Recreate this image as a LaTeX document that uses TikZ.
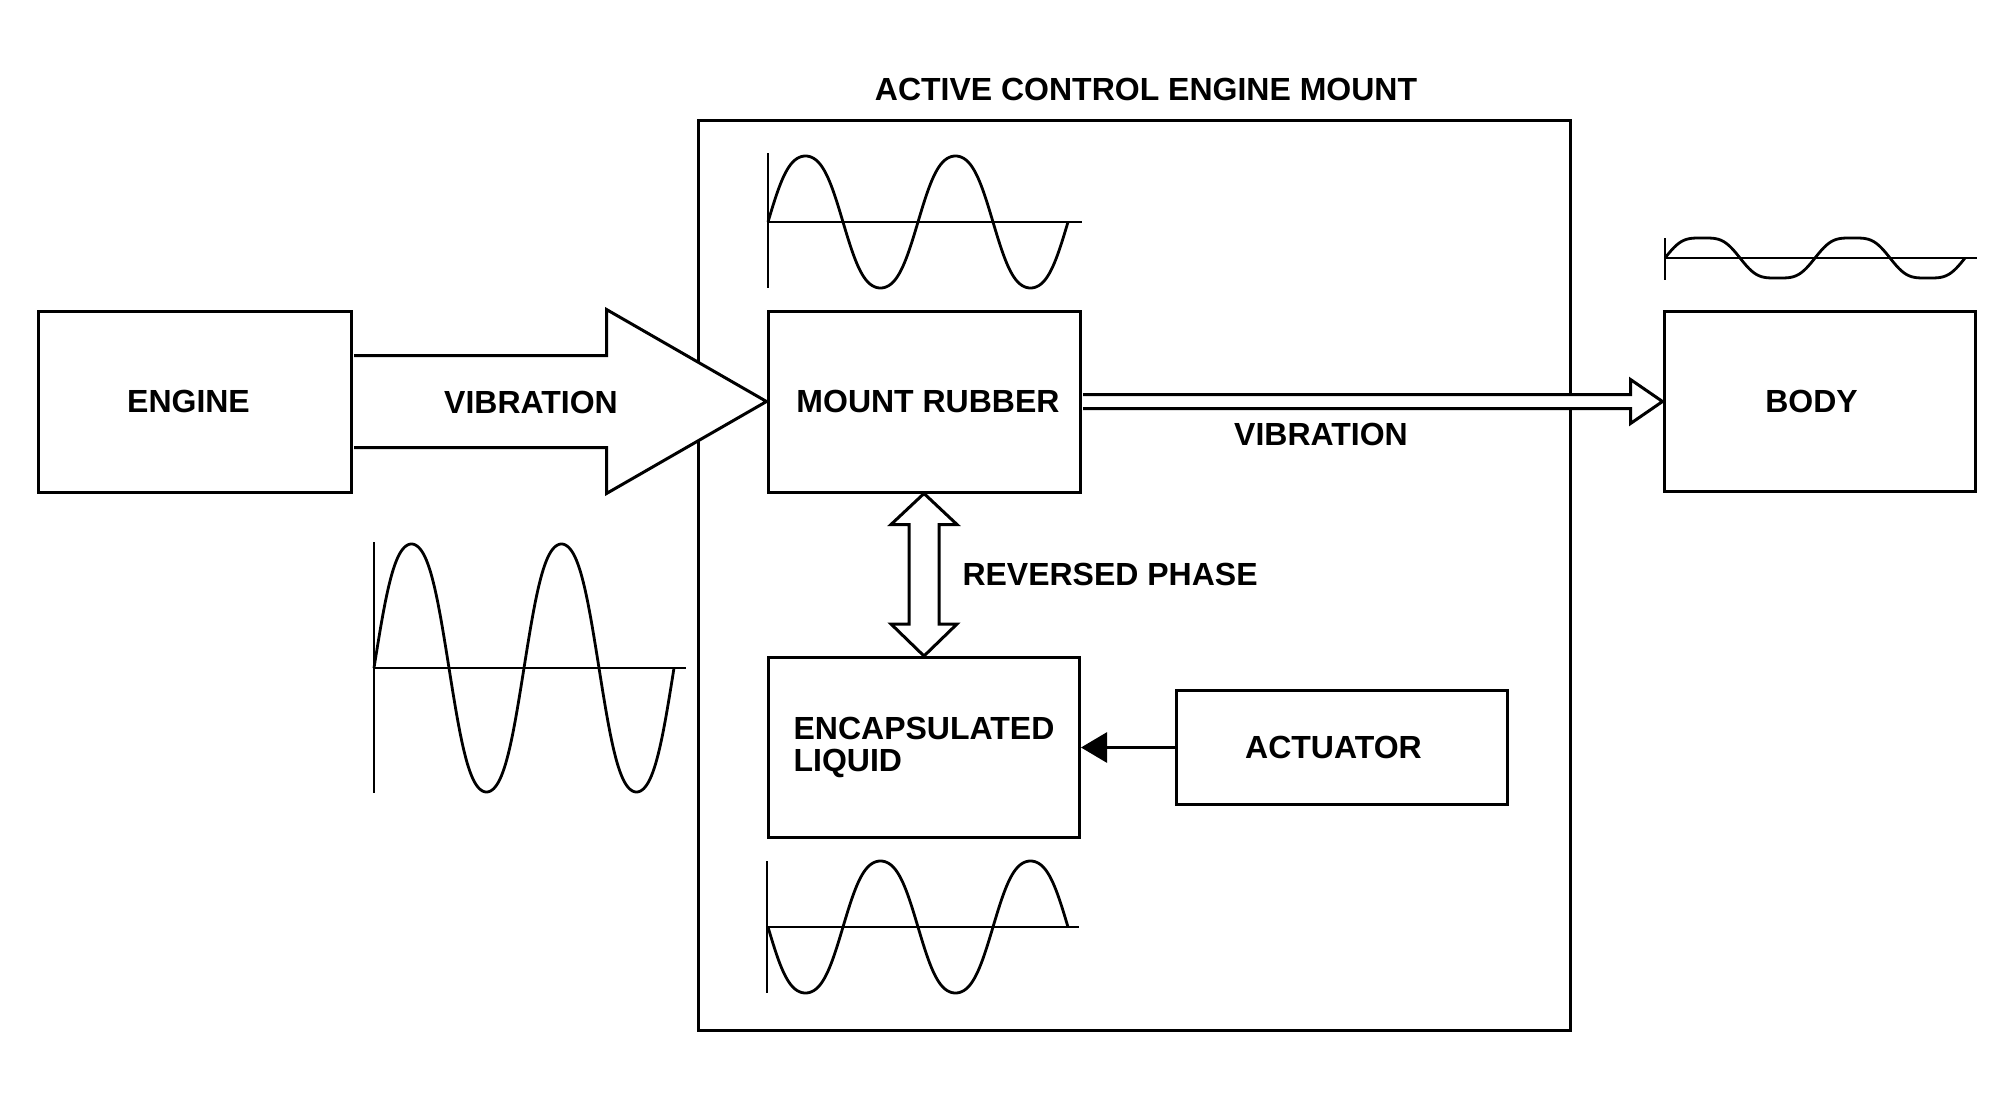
\documentclass[tikz,border=0pt]{standalone}
\usepackage{fontspec}
\setmainfont{Liberation Sans}
\usetikzlibrary{calc,arrows.meta}
\begin{document}
\begin{tikzpicture}[x=0.5pt,y=-0.5pt,line width=1.5pt,
  box/.style={draw,inner sep=0pt,font=\fontsize{16}{16}\selectfont\bfseries},
  lbl/.style={inner sep=0pt,font=\fontsize{16}{16}\selectfont\bfseries},
  hollow/.style={draw,fill=white,line join=miter},
  wave/.style={line width=1.4pt},
  axisline/.style={line width=1.4pt},
  declare function={lobe(\t,\k)=(sin(\t)+\k*sin(3*\t))/(1-\k);}]
\useasboundingbox (0,0) rectangle (2015,1108);
% boxes
\node[box,minimum width=436pt,minimum height=455pt] (acem) at (1134,575) {};
\node[box,minimum width=156.5pt,minimum height=90.5pt] (engine) at (194.5,401.5) {ENGINE\kern6pt};
\node[box,minimum width=156pt,minimum height=90.5pt] (mr) at (924,401.5) {\kern4pt MOUNT RUBBER};
\node[box,minimum width=155.5pt,minimum height=90pt] (body) at (1819.5,401.5) {BODY\kern8pt};
\node[box,minimum width=155.5pt,minimum height=90pt,align=left] (encap) at (924,747.5) {ENCAPSULATED\\LIQUID};
\node[box,minimum width=165.5pt,minimum height=57pt] (act) at (1341.5,747.5) {ACTUATOR\kern8pt};
% big input arrow
\draw[hollow] ($(engine.east)+(1.5,-46)$) -- ($(engine.east)+(254,-46)$) -- ($(engine.east)+(254,-92)$)
  -- (mr.west) -- ($(engine.east)+(254,92)$) -- ($(engine.east)+(254,46)$) -- ($(engine.east)+(1.5,46)$);
% output arrow
\draw[hollow] ($(mr.east)+(1.5,-7)$) -- ($(body.west)+(-32,-7)$) -- ($(body.west)+(-32,-22)$)
  -- (body.west) -- ($(body.west)+(-32,22)$) -- ($(body.west)+(-32,7)$) -- ($(mr.east)+(1.5,7)$);
% reversed phase double arrow
\draw[hollow] (mr.south) -- ($(mr.south)+(33,31)$) -- ($(mr.south)+(15,31)$) -- ($(encap.north)+(15,-32)$)
  -- ($(encap.north)+(33,-32)$) -- (encap.north) -- ($(encap.north)+(-33,-32)$) -- ($(encap.north)+(-15,-32)$)
  -- ($(mr.south)+(-15,31)$) -- ($(mr.south)+(-33,31)$) -- cycle;
% actuator arrow
\draw[-{Triangle[length=13pt,width=15pt]}] (act.west) -- (encap.east);
% labels
\node[lbl] (title) at (1146,89) {ACTIVE CONTROL ENGINE MOUNT};
\node[lbl] (vib1) at (531,402) {VIBRATION};
\node[lbl] (vib2) at (1321,434) {VIBRATION};
\node[lbl,anchor=west] (rp) at (961,574) {REVERSED PHASE};
% waves: top (inside box)
\draw[axisline] (768,153) -- (768,288);
\draw[axisline] (768,222) -- (1082,222);
\draw[wave] plot[domain=0:300,samples=241,smooth] ({768+\x},{222-66*lobe(2.4*\x,0.05)});
% left wave
\draw[axisline] (374,542) -- (374,793);
\draw[axisline] (374,668) -- (686,668);
\draw[wave] plot[domain=0:300,samples=241,smooth] ({374+\x},{668-124*lobe(2.4*\x,0.05)});
% bottom wave
\draw[axisline] (767,861) -- (767,993);
\draw[axisline] (767,927) -- (1079,927);
\draw[wave] plot[domain=0:300,samples=241,smooth] ({768+\x},{927+66*lobe(2.4*\x,0.05)});
% body wave
\draw[axisline] (1665,238) -- (1665,280);
\draw[axisline] (1665,258) -- (1977,258);
\draw[wave] plot[domain=0:300,samples=241,smooth] ({1665+\x},{258-20*lobe(2.4*\x,0.11)});
\end{tikzpicture}
\end{document}
